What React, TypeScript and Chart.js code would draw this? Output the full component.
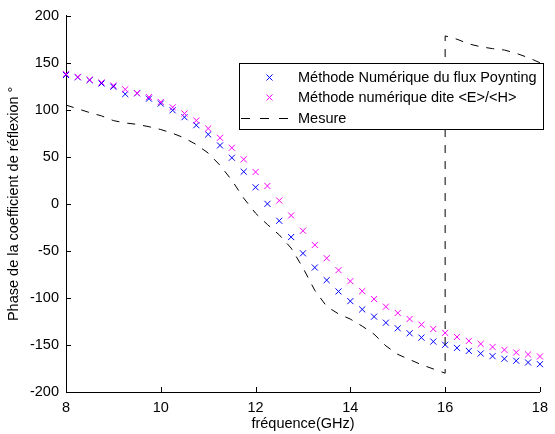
import React, { useEffect, useRef } from 'react';
import { Chart, registerables } from 'chart.js';

Chart.register(...registerables);

// Frequencies (GHz) of the simulated points
const FREQ = [
  8, 8.25, 8.5, 8.75, 9, 9.25, 9.5, 9.75, 10, 10.25,
  10.5, 10.75, 11, 11.25, 11.5, 11.75, 12, 12.25, 12.5, 12.75,
  13, 13.25, 13.5, 13.75, 14, 14.25, 14.5, 14.75, 15, 15.25,
  15.5, 15.75, 16, 16.25, 16.5, 16.75, 17, 17.25, 17.5, 17.75, 18,
];

// Méthode Numérique du flux Poynting (blue)
const POYNTING = [
  137, 134.5, 131.5, 128, 124.5, 116.7, 117.5, 111.8, 106.6, 99.5,
  92.1, 83.6, 73.8, 62.1, 49, 34.2, 17.6, 0, -18, -35.3,
  -52.6, -67.7, -81.1, -93.1, -103.4, -112.2, -119.9, -126.3, -132.3, -137.6,
  -142.2, -146.4, -149.8, -153.1, -156.3, -159.1, -161.9, -164.7, -166.8, -168.6, -170.4,
];

// Méthode numérique dite <E>/<H> (magenta)
const EH = [
  137.9, 135, 132, 129, 125.8, 121.7, 117.8, 113.5, 108.3, 102.6,
  96, 88.6, 80.1, 70.2, 59.6, 47.3, 33.9, 19, 3.5, -12.3,
  -28.6, -43.7, -57.8, -70.5, -82.2, -92.8, -101.2, -109.3, -116, -122.4,
  -128.4, -133, -137.2, -141.5, -145.7, -148.9, -152.1, -155.2, -158, -160.1, -162.2,
];

// Mesure (dashed black) - phase wraps at 16 GHz
const MESURE_FREQ = [
  8, 8.25, 8.5, 8.75, 9, 9.25, 9.5, 9.75, 10, 10.25,
  10.5, 10.75, 11, 11.25, 11.5, 11.75, 12, 12.25, 12.5, 12.75,
  13, 13.25, 13.5, 13.75, 14, 14.25, 14.5, 14.75, 15, 15.25,
  15.5, 15.75, 16,
  16, 16.25, 16.5, 16.75, 17, 17.25, 17.5, 17.75, 18,
];
const MESURE = [
  105, 101, 97, 93.5, 88.5, 86, 84.5, 82, 79, 75,
  70, 63, 54, 41, 25, 6, -10, -22, -33, -47,
  -68, -92, -109, -117, -122.5, -130, -138.5, -151, -160, -165.5,
  -171, -175.5, -180,
  178.5, 175, 170, 167, 165, 163.5, 160, 155.5, 150,
];

const X_TICKS = [8, 10, 12, 14, 16, 18];
const Y_TICKS = [-200, -150, -100, -50, 0, 50, 100, 150, 200];

const LEGEND_LABELS = [
  'Méthode Numérique du flux Poynting',
  'Méthode numérique dite <E>/<H>',
  'Mesure',
];
const X_TITLE = 'fréquence(GHz)';
const Y_TITLE = 'Phase de la coefficient de réflexion °';

const FONT = '"Liberation Sans", Arial, Helvetica, sans-serif';
const FONT_SIZE = 14.5;
const BLUE = '#0000ff';
const MAGENTA = '#ff00ff';
const DASH = [8, 8];

function drawCross(ctx: CanvasRenderingContext2D, x: number, y: number, h: number, color: string) {
  ctx.save();
  ctx.strokeStyle = color;
  ctx.lineWidth = 1;
  ctx.beginPath();
  ctx.moveTo(x - h, y - h);
  ctx.lineTo(x + h, y + h);
  ctx.moveTo(x - h, y + h);
  ctx.lineTo(x + h, y - h);
  ctx.stroke();
  ctx.restore();
}

const inwardTicks = {
  id: 'inwardTicks',
  afterDraw(chart: any) {
    const { ctx, chartArea, scales } = chart;
    ctx.save();
    ctx.strokeStyle = '#000';
    ctx.lineWidth = 1;
    ctx.beginPath();
    for (const v of Y_TICKS) {
      const y = Math.round(scales.y.getPixelForValue(v)) + 0.5;
      ctx.moveTo(chartArea.left, y);
      ctx.lineTo(chartArea.left + 5, y);
    }
    for (const v of X_TICKS) {
      const x = Math.round(scales.x.getPixelForValue(v)) + 0.5;
      ctx.moveTo(x, chartArea.bottom);
      ctx.lineTo(x, chartArea.bottom - 5);
    }
    ctx.stroke();
    ctx.restore();
  },
};

const boxLegend = {
  id: 'boxLegend',
  afterDraw(chart: any) {
    const { ctx } = chart;
    const left = 239.5;
    const top = 63.5;
    const w = 304;
    const h = 66;
    ctx.save();
    ctx.fillStyle = '#fff';
    ctx.fillRect(left, top, w, h);
    ctx.strokeStyle = '#000';
    ctx.lineWidth = 1;
    ctx.strokeRect(left, top, w, h);

    const rows = [77.5, 97.5, 118];
    drawCross(ctx, 269.5, rows[0], 3, BLUE);
    drawCross(ctx, 269.5, rows[1], 3, MAGENTA);

    ctx.strokeStyle = '#000';
    ctx.setLineDash([9, 10]);
    ctx.beginPath();
    ctx.moveTo(241, rows[2] + 0.5);
    ctx.lineTo(293, rows[2] + 0.5);
    ctx.stroke();
    ctx.setLineDash([]);

    ctx.fillStyle = '#000';
    ctx.font = `${FONT_SIZE}px ${FONT}`;
    ctx.textAlign = 'left';
    ctx.textBaseline = 'middle';
    LEGEND_LABELS.forEach((t, i) => ctx.fillText(t, 298, rows[i] + 0.5));
    ctx.restore();
  },
};

export default function App() {
  const ref = useRef<HTMLCanvasElement | null>(null);

  useEffect(() => {
    if (!ref.current) return;
    const mk = (xs: number[], ys: number[]) => xs.map((x, i) => ({ x, y: ys[i] }));
    const chart = new Chart(ref.current, {
      type: 'scatter',
      data: {
        datasets: [
          {
            label: LEGEND_LABELS[0],
            data: mk(FREQ, POYNTING),
            showLine: false,
            pointStyle: 'crossRot',
            pointRadius: 4.3,
            borderColor: BLUE,
            backgroundColor: BLUE,
            pointBorderWidth: 1,
            borderWidth: 1,
            clip: false,
            order: 2,
          },
          {
            label: LEGEND_LABELS[1],
            data: mk(FREQ, EH),
            showLine: false,
            pointStyle: 'crossRot',
            pointRadius: 4.3,
            borderColor: MAGENTA,
            backgroundColor: MAGENTA,
            pointBorderWidth: 1,
            borderWidth: 1,
            clip: false,
            order: 1,
          },
          {
            label: LEGEND_LABELS[2],
            data: mk(MESURE_FREQ, MESURE),
            showLine: true,
            pointRadius: 0,
            borderColor: '#000',
            borderWidth: 1,
            borderDash: DASH,
            tension: 0,
            fill: false,
            order: 0,
          },
        ],
      },
      options: {
        responsive: false,
        animation: false,
        devicePixelRatio: 1,
        events: [],
        layout: { padding: { top: 14, right: 9, bottom: 0, left: 0 } },
        plugins: {
          legend: { display: false },
          tooltip: { enabled: false },
        },
        scales: {
          x: {
            type: 'linear',
            min: 8,
            max: 18,
            afterBuildTicks: (scale: any) => {
              scale.ticks = X_TICKS.map((v) => ({ value: v }));
            },
            afterFit: (scale: any) => {
              scale.height = 42;
            },
            grid: { display: false, drawTicks: false },
            border: { display: true, color: '#000', width: 1 },
            ticks: {
              color: '#000',
              font: { family: FONT, size: FONT_SIZE },
              padding: 7,
              maxRotation: 0,
              autoSkip: false,
            },
            title: {
              display: true,
              text: X_TITLE,
              color: '#000',
              font: { family: FONT, size: FONT_SIZE },
              padding: { top: 0, bottom: 1 },
            },
          },
          y: {
            type: 'linear',
            min: -200,
            max: 200,
            afterBuildTicks: (scale: any) => {
              scale.ticks = Y_TICKS.map((v) => ({ value: v }));
            },
            afterFit: (scale: any) => {
              scale.width = 66;
            },
            grid: { display: false, drawTicks: false },
            border: { display: true, color: '#000', width: 1 },
            ticks: {
              color: '#000',
              font: { family: FONT, size: FONT_SIZE },
              padding: 7,
              autoSkip: false,
            },
            title: {
              display: true,
              text: Y_TITLE,
              color: '#000',
              font: { family: FONT, size: FONT_SIZE },
              padding: { top: 5, bottom: 0 },
            },
          },
        },
      },
      plugins: [inwardTicks, boxLegend],
    } as any);
    return () => chart.destroy();
  }, []);

  return (
    <div style={{ position: 'absolute', left: 0, top: 0, width: 555, height: 434, background: '#fff' }}>
      <canvas ref={ref} width={555} height={434} style={{ display: 'block' }} />
    </div>
  );
}
